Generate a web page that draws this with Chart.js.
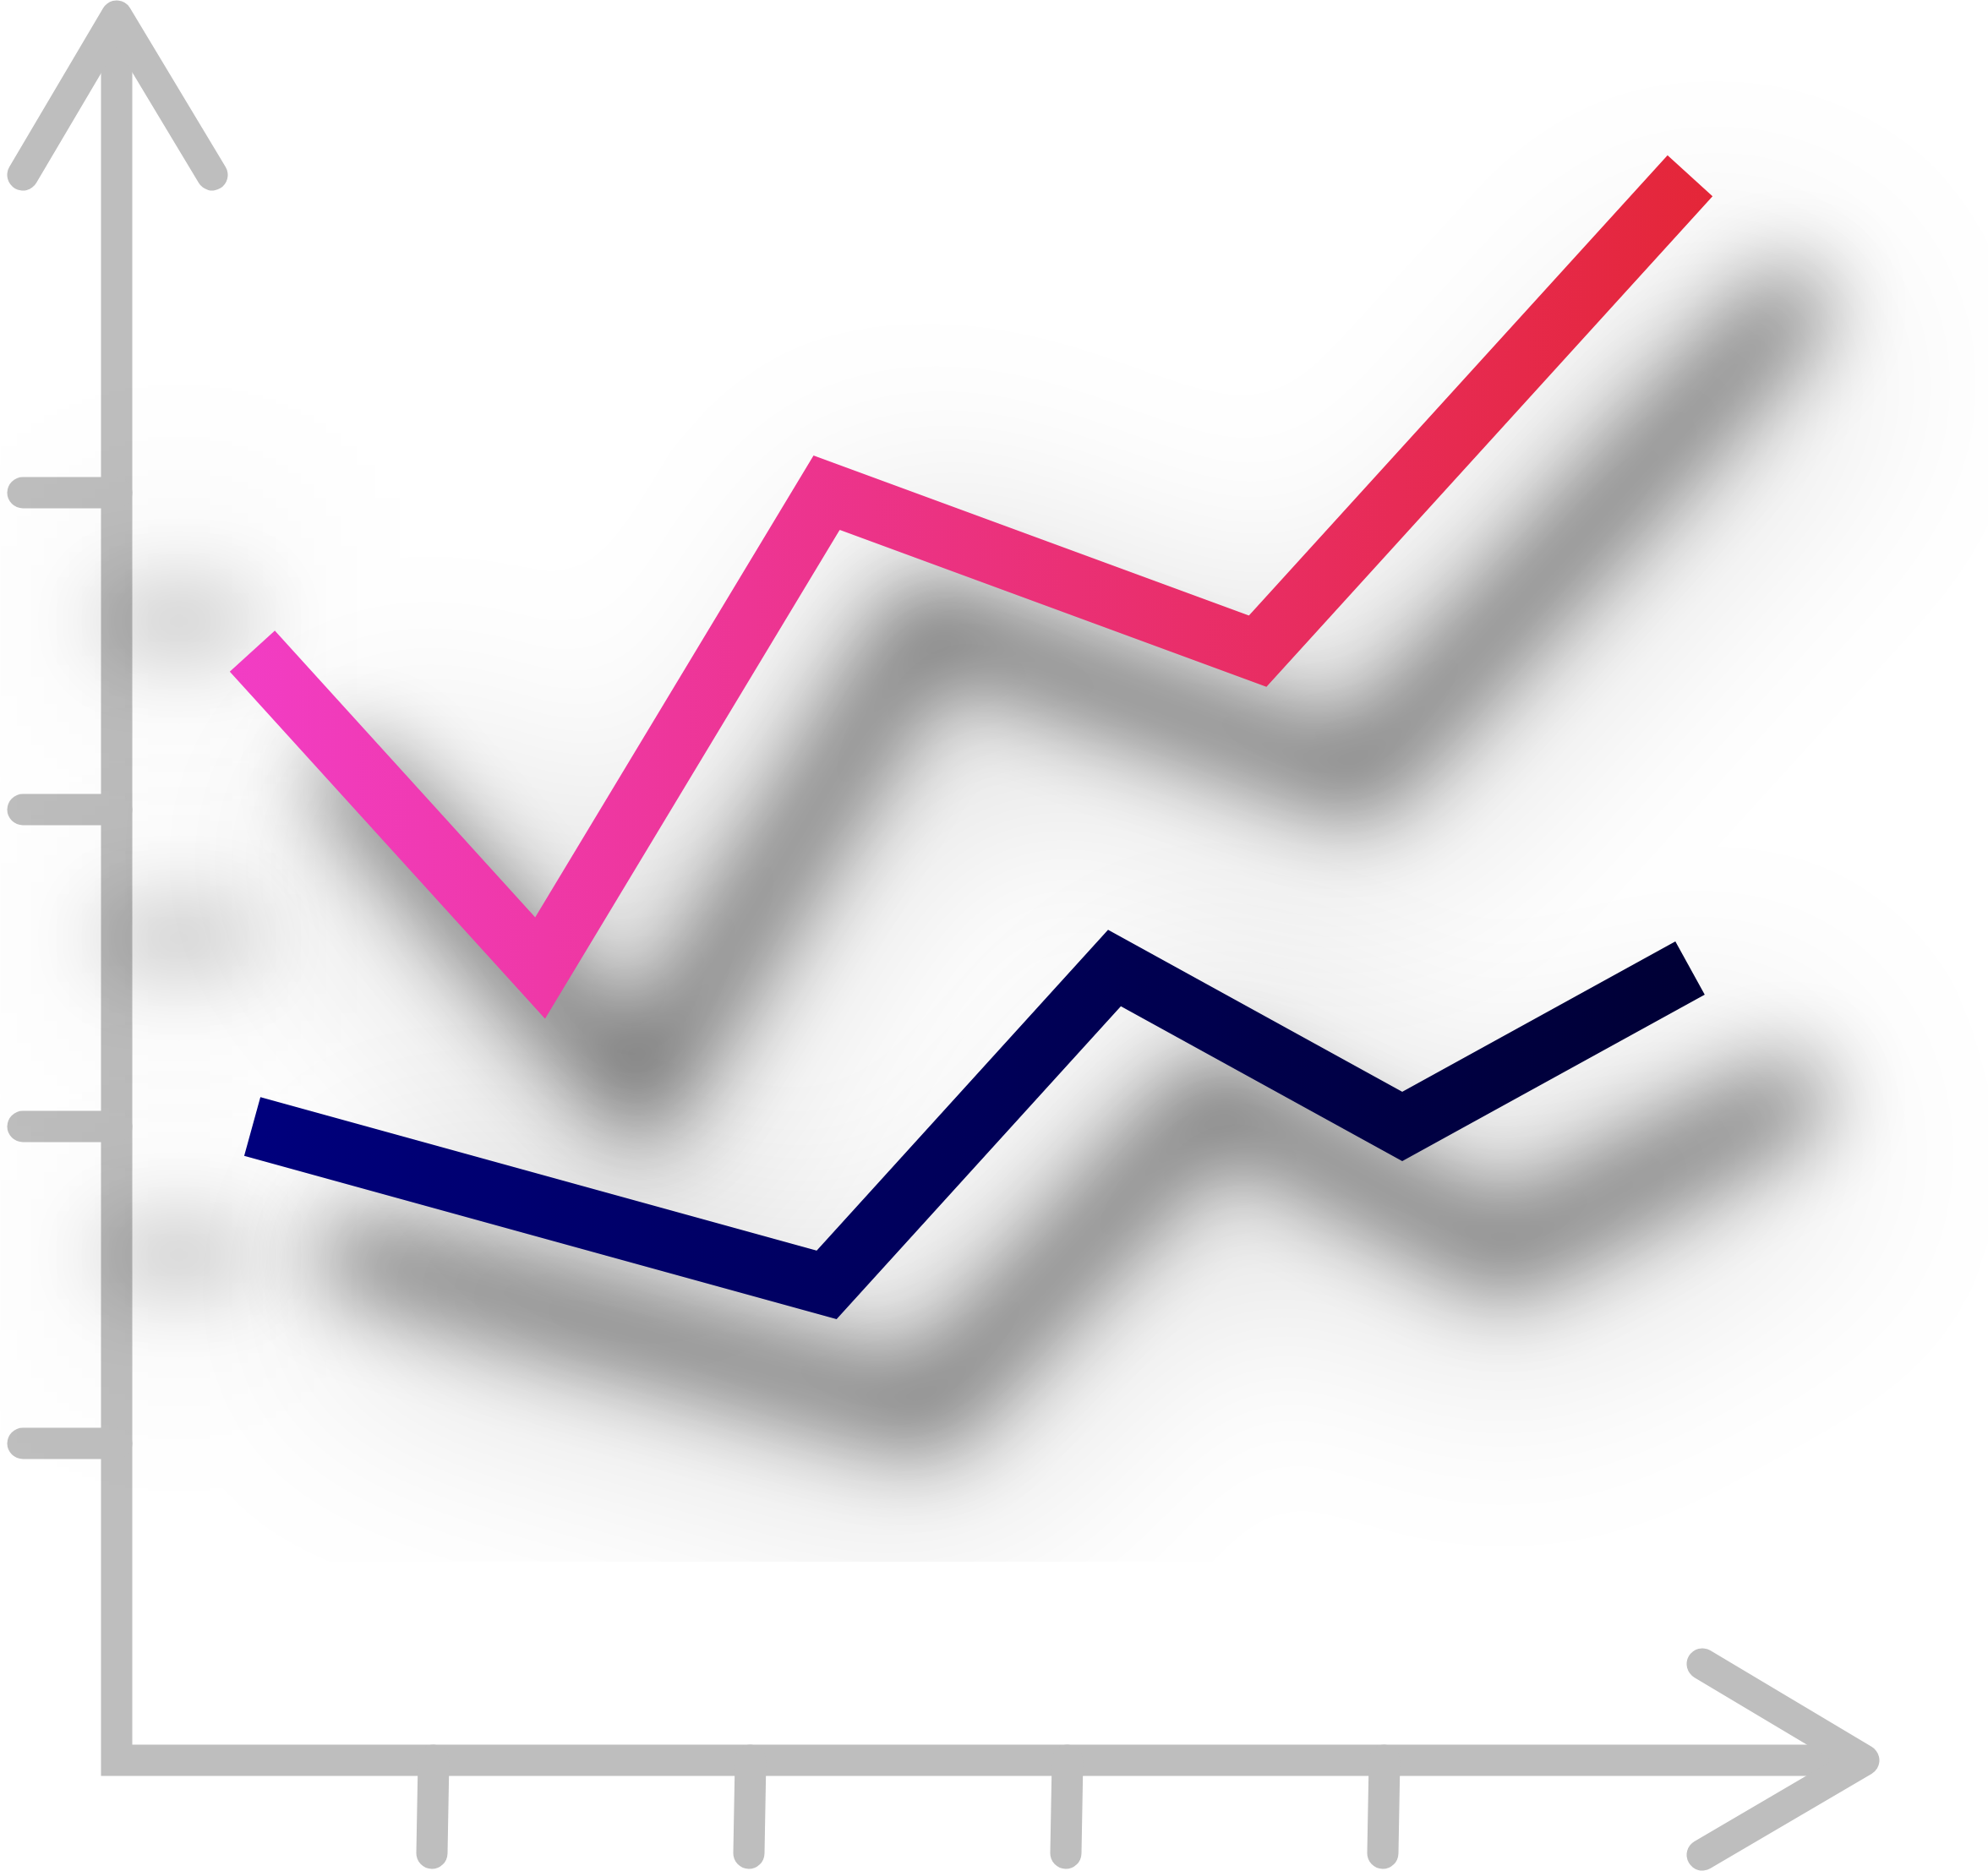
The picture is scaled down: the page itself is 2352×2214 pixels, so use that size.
<!DOCTYPE html>
<html>
<head>
<meta charset="utf-8">
<script src="https://cdn.jsdelivr.net/npm/chart.js@4.4.1/dist/chart.umd.min.js"></script>
<style>
  html, body { margin: 0; padding: 0; background: #ffffff; }
  #wrap { width: 2352px; height: 2214px; position: relative; }
</style>
</head>
<body>
<div id="wrap"><canvas id="c"></canvas></div>
<script>
// ---- data ----
const seriesNames = ['Series A', 'Series B'];
const seriesAX = [0.428, 1.336, 2.24, 3.6, 4.964];
const seriesAY = [3.5, 2.5, 4.0, 3.5, 5.0];
const seriesBX = [0.428, 2.24, 3.148, 4.056, 4.964];
const seriesBY = [2.0, 1.5, 2.5, 2.0, 2.5];
const xTickValues = [1, 2, 3, 4];
const yTickValues = [1, 2, 3, 4];

// ---- style ----
const AXIS_COLOR = '#bebebe';
const AXIS_W = 37;
const LINE_W = 72;
const SHADOW_DX = 120, SHADOW_DY = 152;
const SHADOW_CLIP_BOTTOM = 1848;

function gradientFor(chart, xs, c0, c1) {
  const sx = chart.scales.x;
  const a = sx.getPixelForValue(Math.min(...xs)) - LINE_W / 2;
  const b = sx.getPixelForValue(Math.max(...xs)) + LINE_W / 2;
  const g = chart.ctx.createLinearGradient(a, 0, b, 0);
  g.addColorStop(0, c0);
  g.addColorStop(1, c1);
  return g;
}

const iconPlugin = {
  id: 'iconPlugin',
  beforeDatasetsDraw(chart) {
    const ctx = chart.ctx, xs = chart.scales.x, ys = chart.scales.y;
    const x0 = xs.getPixelForValue(0), y0 = ys.getPixelForValue(0);
    const xEnd = xs.getPixelForValue(xs.max) - 33;
    const yTop = ys.getPixelForValue(ys.max) - 1.5;
    ctx.save();
    ctx.strokeStyle = AXIS_COLOR;
    ctx.lineWidth = AXIS_W;
    // axis frame
    ctx.lineCap = 'butt'; ctx.lineJoin = 'miter';
    ctx.beginPath();
    ctx.moveTo(x0, yTop);
    ctx.lineTo(x0, y0);
    ctx.lineTo(xEnd, y0);
    ctx.stroke();
    ctx.lineCap = 'round'; ctx.lineJoin = 'round';
    // arrowheads
    ctx.beginPath();
    ctx.moveTo(x0 - 111, yTop + 188);
    ctx.lineTo(x0, yTop);
    ctx.lineTo(x0 + 113, yTop + 188);
    ctx.stroke();
    ctx.beginPath();
    ctx.moveTo(xEnd - 191, y0 - 114);
    ctx.lineTo(xEnd, y0);
    ctx.lineTo(xEnd - 191, y0 + 112);
    ctx.stroke();
    // y ticks
    yTickValues.forEach(v => {
      const py = ys.getPixelForValue(v);
      ctx.beginPath();
      ctx.moveTo(27, py);
      ctx.lineTo(x0, py);
      ctx.stroke();
    });
    // x ticks
    xTickValues.forEach(v => {
      const px = xs.getPixelForValue(v);
      ctx.beginPath();
      ctx.moveTo(px, y0);
      ctx.lineTo(px - 2, y0 + 110);
      ctx.stroke();
    });
    ctx.restore();

    // blurred drop shadow of the plotted lines and the upper y ticks
    const drawShadowShapes = (w, tw) => {
      chart.data.datasets.forEach((ds, i) => {
        const meta = chart.getDatasetMeta(i);
        ctx.lineWidth = w;
        ctx.beginPath();
        meta.data.forEach((p, k) => {
          const X = p.x + SHADOW_DX, Y = p.y + SHADOW_DY;
          if (k === 0) ctx.moveTo(X, Y); else ctx.lineTo(X, Y);
        });
        ctx.stroke();
      });
      yTickValues.forEach(v => {
        const py = ys.getPixelForValue(v) + SHADOW_DY;
        if (py > SHADOW_CLIP_BOTTOM - 40) return;
        ctx.lineWidth = tw;
        ctx.beginPath();
        ctx.moveTo(20 + SHADOW_DX, py);
        ctx.lineTo(x0 + 25 + SHADOW_DX, py);
        ctx.stroke();
      });
    };
    ctx.save();
    ctx.beginPath();
    ctx.rect(0, 0, chart.width, SHADOW_CLIP_BOTTOM);
    ctx.clip();
    ctx.lineCap = 'butt'; ctx.lineJoin = 'miter';
    ctx.filter = 'blur(120px)';
    ctx.strokeStyle = 'rgba(0,0,0,0.12)';
    drawShadowShapes(260, 150);
    ctx.filter = 'blur(52px)';
    ctx.strokeStyle = 'rgba(0,0,0,0.55)';
    ctx.lineCap = 'round';
    drawShadowShapes(82, 30);
    ctx.restore();
  }
};

const chart = new Chart(document.getElementById('c'), {
  type: 'line',
  data: {
    datasets: [
      {
        label: seriesNames[0],
        data: seriesAX.map((x, i) => ({ x, y: seriesAY[i] })),
        borderColor: (c) => c.chart.chartArea ? gradientFor(c.chart, seriesAX, '#f23dc6', '#e42637') : '#ec348d',
        borderWidth: LINE_W,
        borderCapStyle: 'butt',
        borderJoinStyle: 'miter',
        pointRadius: 0,
        tension: 0,
        fill: false,
        clip: false
      },
      {
        label: seriesNames[1],
        data: seriesBX.map((x, i) => ({ x, y: seriesBY[i] })),
        borderColor: (c) => c.chart.chartArea ? gradientFor(c.chart, seriesBX, '#00007e', '#000034') : '#000060',
        borderWidth: LINE_W,
        borderCapStyle: 'butt',
        borderJoinStyle: 'miter',
        pointRadius: 0,
        tension: 0,
        fill: false,
        clip: false
      }
    ]
  },
  options: {
    responsive: true,
    maintainAspectRatio: false,
    devicePixelRatio: 1,
    animation: false,
    layout: { padding: { left: 138, right: 114, top: 20.5, bottom: 131 } },
    plugins: { legend: { display: false }, tooltip: { enabled: false }, title: { display: false } },
    scales: {
      x: { type: 'linear', min: 0, max: 5.6, display: false },
      y: { type: 'linear', min: 0, max: 5.5, display: false }
    }
  },
  plugins: [iconPlugin]
});
</script>
</body>
</html>
